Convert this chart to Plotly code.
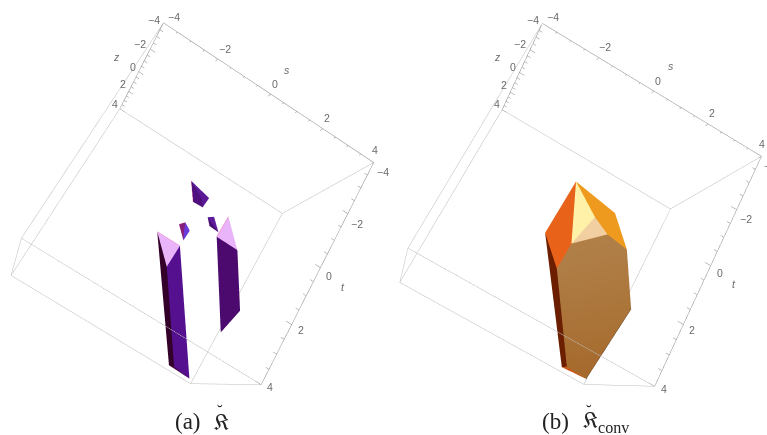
import plotly.graph_objects as go

# polytope vertices, (s, t, z), panel (a)
a_s = [-0.47, 0.42, 0.45, 0.06, 0.22, 0.03, 0.19, 0.47, 0.45, 0.29, 0.78, 0.97, 1.38, 0.99,
       -0.58, 0.31, 0.28, 3.84, 3.01, 2.81, 1.25, 2.18, 1.32, 3.88, 3.74]
a_t = [-1.21, -1.21, -0.97, -0.95, -1.04, 0.02, -0.16, 0.01, 0.43, 0.10, -0.76, -0.90, -0.50, -0.52,
       0.94, 0.94, 1.78, 3.87, 3.84, 3.89, -0.84, -0.16, -0.17, 1.00, 1.98]
a_z = [-1, -0.5, 0, 0, -0.5, 0, 0, 0, 0, 0, 0, 0, 0, 0,
       -1, -1, -1, 3.9, 3.5, 3.5, -1, -0.5, -0.5, 2, 2.5]
a_faces = [[0, 1, 2, 4], [0, 4, 2, 3],
           [5, 6, 9, 8], [6, 7, 8, 9],
           [10, 11, 12], [10, 12, 13],
           [14, 15, 16], [16, 15, 17, 18], [14, 16, 18, 19], [19, 18, 17],
           [20, 21, 22], [22, 21, 23, 24]]
a_colors = ["#5a1a96", "#4f0f7c",
            "#86207a", "#6b3adb",
            "#5f1b9c", "#4a0e78",
            "#e9b4fa", "#55108f", "#320028", "#470540",
            "#e9b4fa", "#4c0a6e"]
a_edges = [(14, 15), (20, 22), (0, 3)]

# panel (b)
b_s = [-0.49, -0.58, 0.45, 0.49, 0.64, 1.18, 2.31, 1.37, 3.62, 3.93, 2.95, 2.79]
b_t = [-1.20, 0.88, 1.50, 0.48, -0.45, -0.93, -0.33, -0.30, 1.20, 3.80, 3.81, 3.92]
b_z = [-1, -1, 0, 0, -1, -1, 0, -0.5, 1, 3.8, 3.3, 3.3]
b_faces = [[0, 1, 2, 3], [0, 3, 4], [0, 4, 7, 6, 5], [3, 7, 4],
           [2, 3, 7, 6, 8, 9, 10], [1, 2, 10, 11], [11, 10, 9]]
b_shade = ["#af7d46", "#b07f48", "#b08048", "#af7d46", "#ab7539", "#a5692b", "#a66b2d"]
b_colors = ["#e8621a", "#fff2a8", "#ee9a1e", "#f2cfa0",
            b_shade, "#6b1f00", "#c9591a"]
b_edges = [(8, 9)]

tick_vals = [-4, -2, 0, 2, 4]
minor_vals = [-4 + 0.5 * i for i in range(17)]
GRAY = "#bdbdbd"
AXIS = "#8e8e8e"
TXT = "#6a6a6a"


def mesh(xs, ys, zs, faces, colors):
    out = []
    for f, c in zip(faces, colors):
        n = len(f)
        paint = dict(vertexcolor=c) if isinstance(c, list) else dict(color=c)
        out.append(go.Mesh3d(
            x=[xs[v] for v in f], y=[ys[v] for v in f], z=[zs[v] for v in f],
            i=[0] * (n - 2), j=list(range(1, n - 1)), k=list(range(2, n)),
            flatshading=True, hoverinfo="skip", showscale=False,
            lighting=dict(ambient=1, diffuse=0, specular=0, roughness=1, fresnel=0),
            **paint,
        ))
    return out


def segs(pairs, color, opacity=1):
    x, y, z = [], [], []
    for p, q in pairs:
        x += [p[0], q[0], None]
        y += [p[1], q[1], None]
        z += [p[2], q[2], None]
    return go.Scatter3d(x=x, y=y, z=z, mode="lines", line=dict(color=color, width=1),
                        opacity=opacity, hoverinfo="skip", showlegend=False)


def edges(xs, ys, zs, pairs, color):
    return segs([((xs[p], ys[p], zs[p]), (xs[q], ys[q], zs[q])) for p, q in pairs], color)


def box():
    light = [((-4, -4, 4), (4, -4, 4)), ((-4, 4, 4), (4, 4, 4)),
             ((-4, -4, -4), (-4, 4, -4)), ((-4, -4, 4), (-4, 4, 4)), ((4, -4, 4), (4, 4, 4)),
             ((4, -4, -4), (4, -4, 4)), ((4, 4, -4), (4, 4, 4)), ((-4, 4, -4), (-4, 4, 4))]
    near = [((-4, 4, -4), (4, 4, -4))]
    dark = [((-4, -4, -4), (4, -4, -4)), ((-4, -4, -4), (-4, -4, 4)), ((4, -4, -4), (4, 4, -4))]
    for v in minor_vals:
        n = 0.2 if v in tick_vals else 0.12
        dark.append(((v, -4, -4), (v, -4, -4 + n)))
        dark.append(((-4, -4, v), (-4 + n, -4, v)))
        dark.append(((4, v, -4), (4 - n, v, -4)))
    return [segs(light, GRAY), segs(dark, AXIS), segs(near, GRAY, 0.99)]


def labels():
    font = dict(family="Liberation Sans", size=10.5, color=TXT)
    s_dx, s_dy = [11, 7, 4, 4, 1], [6, 10, 10, 11, 12]
    z_dx, z_dy = [-9, -10, -6, -6, -5], [3, 5, 5, 7, 5]
    t_dx, t_dy = [9, 9, 9, 9, 9], [-10, -10, -8, -6, -3]
    out = []
    for n, v in enumerate(tick_vals):
        txt = str(v).replace("-", "\u2212")
        out.append(dict(x=v, y=-4, z=-4, text=txt, xshift=s_dx[n], yshift=s_dy[n]))
        out.append(dict(x=-4, y=-4, z=v, text=txt, xshift=z_dx[n], yshift=z_dy[n]))
        out.append(dict(x=4, y=v, z=-4, text=txt, xshift=t_dx[n], yshift=t_dy[n]))
    out.append(dict(x=1, y=-4, z=-4, text="<i>s</i>", xshift=-10, yshift=41))
    out.append(dict(x=-4, y=-4, z=0, text="<i>z</i>", xshift=-22, yshift=15))
    out.append(dict(x=4, y=0, z=-4, text="<i>t</i>", xshift=23, yshift=-19))
    return [dict(a, showarrow=False, font=font) for a in out]


def scene(dom_x, dom_y, eye, center, up):
    ax = dict(visible=False, range=[-4, 4], autorange=False)
    return dict(domain=dict(x=dom_x, y=dom_y), xaxis=ax, yaxis=ax, zaxis=ax,
                aspectmode="cube", dragmode="orbit", bgcolor="rgba(0,0,0,0)",
                annotations=labels(),
                camera=dict(eye=dict(zip("xyz", eye)), center=dict(zip("xyz", center)),
                            up=dict(zip("xyz", up)), projection=dict(type="perspective")))


W, H, SHIFT = 767, 650, 110
fig = go.Figure()
for tr in mesh(a_s, a_t, a_z, a_faces, a_colors) + [edges(a_s, a_t, a_z, a_edges, "#ef6fb4")] + box():
    tr.scene = "scene"
    fig.add_trace(tr)
for tr in mesh(b_s, b_t, b_z, b_faces, b_colors) + [edges(b_s, b_t, b_z, b_edges, "#4a2200")] + box():
    tr.scene = "scene2"
    fig.add_trace(tr)


def caption(px, py, text, size=23):
    return dict(x=px / W, y=1 - (py + SHIFT) / H, xref="paper", yref="paper", showarrow=False,
                xanchor="left", yanchor="middle", text=text,
                font=dict(family="Liberation Serif, DejaVu Serif", size=size, color="#222222"))


fig.update_layout(
    width=W, height=H, margin=dict(l=0, r=0, t=0, b=0), paper_bgcolor="white", showlegend=False,
    scene=scene([0, 393 / W], [1 - 640.8 / H, 1 - 1.0 / H],
                [-0.3526, 0.97, -3.1951], [0.037, -0.081, -0.0317], [-0.5323, -0.8208, -0.2072]),
    scene2=scene([365.8 / W, 1], [1 - 648.4 / H, 1 - 2.8 / H],
                 [-0.3683, 0.9284, -3.2023], [-0.0148, -0.0332, -0.0086], [-0.4982, -0.8439, -0.199]),
    annotations=[
        caption(173, 421, "(a)"),
        caption(212, 422, "\U0001D50E"),
        caption(215, 410, "\u02D8", 17),
        caption(540, 421, "(b)"),
        caption(581, 422, "\U0001D50E<sub>conv</sub>"),
        caption(584, 410, "\u02D8", 17),
    ],
)

# the 45 degree lens needs a taller scene than the window, so the page is moved up
post = ("document.body.style.margin='0';document.body.style.overflow='hidden';"
        "document.documentElement.style.overflow='hidden';"
        "document.getElementById('{plot_id}').style.marginTop='-%dpx';" % SHIFT)
fig.write_html("out.html", config=dict(displayModeBar=False), post_script=post)
